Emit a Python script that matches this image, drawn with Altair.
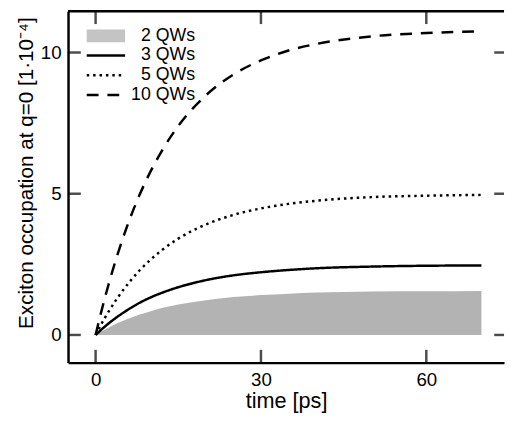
import altair as alt
import pandas as pd

# time axis [ps]
t = [0, 1, 2, 4, 6, 8, 10, 12, 15, 20, 25, 30, 35, 40, 50, 60, 70]
# exciton occupation at q=0 [1e-4]
qw2 = [0, 0.12, 0.22, 0.42, 0.58, 0.72, 0.84, 0.95, 1.08, 1.23, 1.34, 1.41, 1.46, 1.50, 1.54, 1.55, 1.56]
qw3 = [0, 0.18, 0.35, 0.65, 0.91, 1.14, 1.33, 1.49, 1.69, 1.94, 2.11, 2.22, 2.30, 2.36, 2.42, 2.45, 2.46]
qw5 = [0, 0.37, 0.71, 1.32, 1.84, 2.29, 2.67, 3.00, 3.41, 3.91, 4.25, 4.48, 4.64, 4.75, 4.88, 4.93, 4.96]
qw10 = [0, 0.80, 1.54, 2.86, 4.00, 4.97, 5.80, 6.51, 7.40, 8.48, 9.22, 9.72, 10.07, 10.30, 10.57, 10.69, 10.75]

series_names = ["2 QWs", "3 QWs", "5 QWs", "10 QWs"]
x_ticks = [0, 30, 60]
y_ticks = [0, 5, 10]

FONT = "Liberation Sans"
W, H = 443, 357

area_df = pd.DataFrame({"t": t, "v": qw2})
rows = []
for name, vals in zip(series_names[1:], [qw3, qw5, qw10]):
    for ti, vi in zip(t, vals):
        rows.append({"series": name, "t": ti, "v": vi})
line_df = pd.DataFrame(rows)

xscale = alt.Scale(domain=[-5, 74.1], nice=False, zero=False)
yscale = alt.Scale(domain=[-0.98, 11.46], nice=False, zero=False)

common = dict(grid=False, ticks=False, domainColor="black", domainWidth=2.5,
              labelColor="black", titleColor="black", labelFont=FONT, titleFont=FONT,
              labelFontSize=19, titleFontWeight="normal")
xaxis = alt.Axis(values=x_ticks, title="time [ps]", labelPadding=8, titleFontSize=22,
                 titleY=46, titleBaseline="alphabetic", **common)
yaxis = alt.Axis(values=y_ticks, title="Exciton occupation at q=0 [1·10⁻⁴]", labelPadding=7,
                 titleFontSize=21, titleAngle=-90, titleX=-36, titleY=164,
                 titleAlign="center", titleBaseline="alphabetic", **common)

X = alt.X("t:Q", scale=xscale, axis=xaxis)
Y = alt.Y("v:Q", scale=yscale, axis=yaxis)

area = alt.Chart(area_df).mark_area(color="#b3b3b3", interpolate="monotone").encode(x=X, y=Y)

lines = alt.Chart(line_df).mark_line(color="black", strokeWidth=2.5, interpolate="monotone").encode(
    x=X, y=Y,
    strokeDash=alt.StrokeDash("series:N",
                              scale=alt.Scale(domain=series_names[1:],
                                              range=[[1, 0], [2.5, 4], [12, 9]]),
                              legend=None),
)

# frame top line
top_line = alt.Chart(pd.DataFrame({"a": [0]})).mark_rule(color="black", strokeWidth=2.5).encode(
    x=alt.value(0), x2=alt.value(W), y=alt.value(0))

xt = pd.DataFrame({"t": x_ticks})
yt = pd.DataFrame({"v": y_ticks})
tick_bottom = alt.Chart(xt).mark_tick(color="black", thickness=2.5, size=13, orient="vertical").encode(
    x=X, y=alt.value(H - 6.5))
tick_top = alt.Chart(xt).mark_tick(color="black", thickness=2.5, size=13, orient="vertical").encode(
    x=X, y=alt.value(6.5))
tick_left = alt.Chart(yt).mark_tick(color="black", thickness=2.5, size=13, orient="horizontal").encode(
    y=Y, x=alt.value(6.5))
tick_right = alt.Chart(yt).mark_tick(color="black", thickness=2.5, size=10, orient="horizontal").encode(
    y=Y, x=alt.value(W - 5))

# manual legend
leg_layers = []
leg_y = [25, 45, 65, 85]
leg_layers.append(alt.Chart(pd.DataFrame({"a": [0]})).mark_rect(color="#c4c4c4").encode(
    x=alt.value(19), x2=alt.value(58), y=alt.value(18.5), y2=alt.value(31.5)))
dashes = [[1, 0], [2.5, 4], [12, 9]]
for yy, d in zip(leg_y[1:], dashes):
    leg_layers.append(alt.Chart(pd.DataFrame({"a": [0]})).mark_rule(
        color="black", strokeWidth=2.5, strokeDash=d).encode(
        x=alt.value(19), x2=alt.value(58), y=alt.value(yy)))
for yy, name in zip(leg_y, series_names):
    leg_layers.append(alt.Chart(pd.DataFrame({"label": [name]})).mark_text(
        align="right", baseline="middle", fontSize=18, font=FONT, color="black").encode(
        text="label:N", x=alt.value(129), y=alt.value(yy)))

chart = alt.layer(area, lines, top_line, tick_bottom, tick_top, tick_left, tick_right,
                  *leg_layers).properties(
    width=W, height=H,
    autosize=alt.AutoSizeParams(type="none"),
    padding={"left": 61, "top": 0, "right": 2, "bottom": 57},
).configure(background="white").configure_view(stroke=None)

chart.save("out.html", embed_options={"renderer": "svg", "actions": False})
